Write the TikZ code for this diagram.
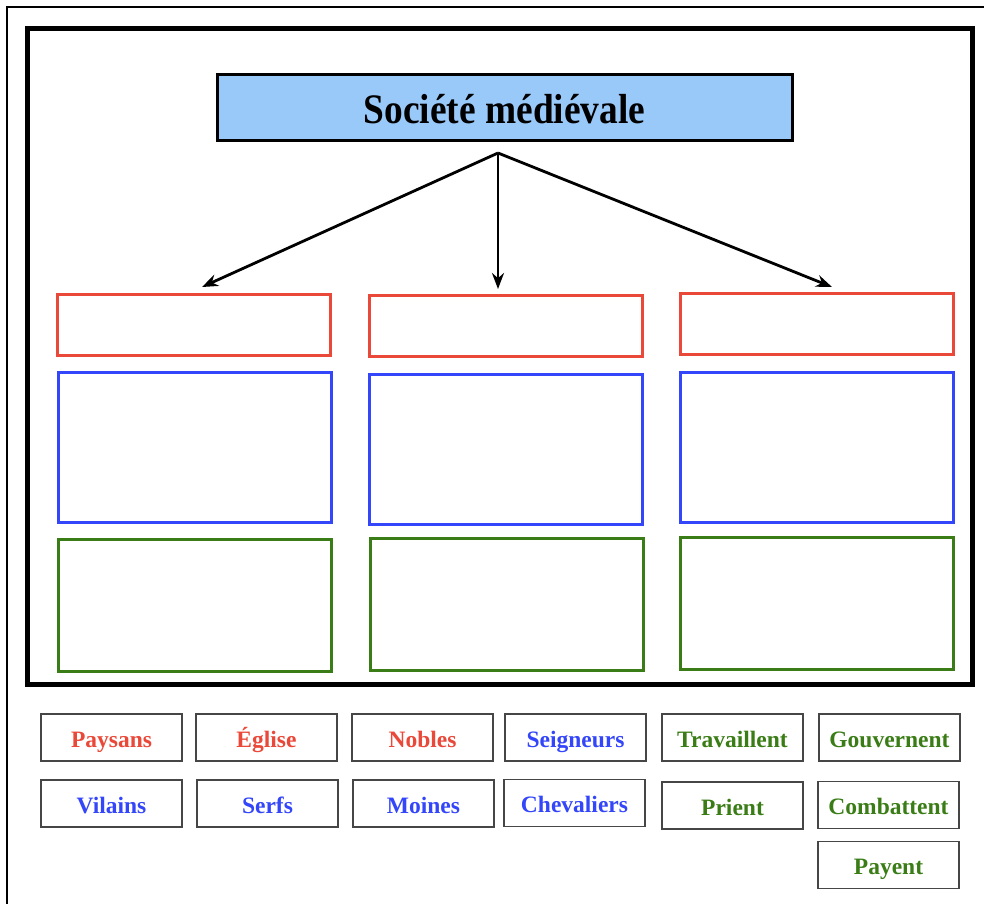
\documentclass[tikz,border=0pt]{standalone}
\usepackage{fontspec}
\setmainfont{Liberation Serif}
\usetikzlibrary{arrows.meta}
\definecolor{redc}{RGB}{234,72,56}
\definecolor{bluec}{RGB}{52,70,250}
\definecolor{greenc}{RGB}{58,125,22}
\definecolor{titlefill}{RGB}{153,201,249}
\definecolor{labgray}{RGB}{70,70,70}
\tikzset{
  box/.style={draw, line width=3pt, inner sep=0pt, minimum width=273pt},
  redbox/.style={box, draw=redc, minimum height=61pt},
  bluebox/.style={box, draw=bluec, minimum height=150pt},
  greenbox/.style={box, draw=greenc, minimum height=132pt},
  lab/.style={draw=labgray, line width=1.8pt, minimum width=141pt, minimum height=47pt, inner sep=0pt,
     text height=21pt, text depth=2pt,
     font=\fontsize{23.5}{26}\selectfont\bfseries},
  arr/.style={line width=2.8pt, -{Stealth[length=16pt,width=12pt]}}
}
\begin{document}
\begin{tikzpicture}[x=1pt,y=-1pt]
\useasboundingbox (0,0) rectangle (984,904);
\fill[white] (0,0) rectangle (984,904);
% thin outer frame (top and left)
\draw[line width=1.5pt] (984,7) -- (7,7) -- (7,904);
% thick frame
\draw[line width=5pt] (27,29) rectangle (972,684);
% title
\node[draw, line width=3pt, fill=titlefill, minimum width=575pt, minimum height=66pt, inner sep=0pt,
  text height=34pt, text depth=2pt,
  font=\fontsize{42}{46}\selectfont\bfseries] (title) at (504.5,108) {\scalebox{0.89}[1]{Société médiévale}};
\coordinate (src) at (498,153);
% red boxes
\node[redbox] (r1) at (193.5,325) {};
\node[redbox] (r2) at (505.5,325.5) {};
\node[redbox] (r3) at (817,323.5) {};
% blue boxes
\node[bluebox] (b1) at (194.5,447.5) {};
\node[bluebox] (b2) at (506,449) {};
\node[bluebox] (b3) at (816.5,447) {};
% green boxes
\node[greenbox] (g1) at (194.5,605) {};
\node[greenbox] (g2) at (506.5,604.5) {};
\node[greenbox] (g3) at (817,603) {};
% arrows
\coordinate (e1) at (202,287);
\coordinate (e2) at (498,289);
\coordinate (e3) at (832,287);
\draw[arr] (src) -- (e1);
\draw[arr] (src) -- (e2);
\draw[arr] (src) -- (e3);
% labels row 1
\node[lab, text=redc] (l1) at (111.5,737.5) {Paysans};
\node[lab, text=redc] (l2) at (266.5,737.5) {Église};
\node[lab, text=redc] (l3) at (422.5,737.5) {Nobles};
\node[lab, text=bluec] (l4) at (575.5,737.5) {Seigneurs};
\node[lab, text=greenc] (l5) at (732.5,737.5) {Travaillent};
\node[lab, text=greenc] (l6) at (889.5,737.5) {Gouvernent};
% labels row 2
\node[lab, text=bluec] (m1) at (111.5,803.5) {Vilains};
\node[lab, text=bluec] (m2) at (267.5,803.5) {Serfs};
\node[lab, text=bluec] (m3) at (423.5,803.5) {Moines};
\node[lab, text=bluec] (m4) at (574.5,803) {Chevaliers};
\node[lab, text=greenc] (m5) at (732.5,805.5) {Prient};
\node[lab, text=greenc] (m6) at (888.5,805) {Combattent};
% row 3
\node[lab, text=greenc] (n6) at (888.5,865) {Payent};
\end{tikzpicture}
\end{document}
